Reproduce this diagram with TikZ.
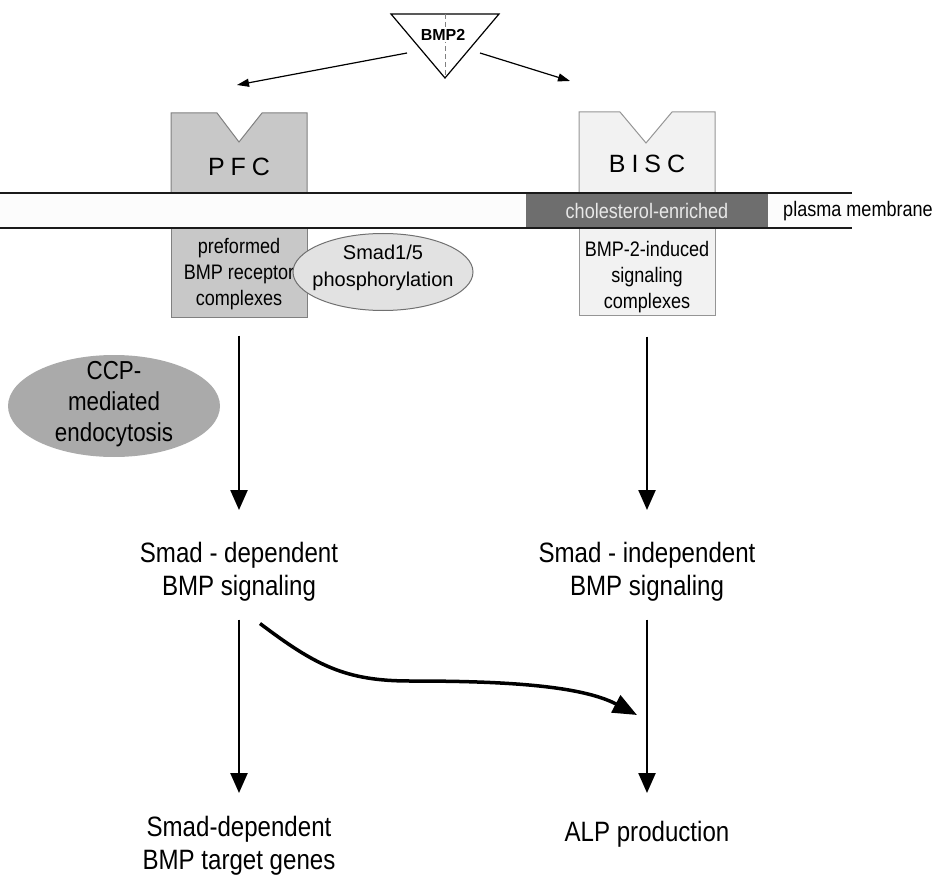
\documentclass[tikz,border=0pt]{standalone}
\usepackage{fontspec}
\setmainfont{Liberation Sans}
\newfontfamily\condf[FakeStretch=0.86]{Liberation Sans}
\usetikzlibrary{arrows.meta,shapes.geometric}
\definecolor{pfcfill}{HTML}{C8C8C8}
\definecolor{pfcdraw}{HTML}{808080}
\definecolor{biscfill}{HTML}{F2F2F2}
\definecolor{biscdraw}{HTML}{959595}
\definecolor{smadfill}{HTML}{E2E2E2}
\definecolor{smaddraw}{HTML}{707070}
\definecolor{ccpfill}{HTML}{AAAAAA}
\definecolor{cholc}{HTML}{6E6E6E}
\definecolor{choltext}{HTML}{E8E8E8}
\definecolor{memfill}{HTML}{FCFCFC}
\definecolor{memc}{HTML}{1A1A1A}
\begin{document}
\begin{tikzpicture}[x=1pt,y=-1pt,
  lbl/.style={font=\condf\fontsize{28}{33}\selectfont,align=center,inner sep=0pt},
  boxtxt/.style={font=\condf\fontsize{21}{26}\selectfont,align=center,inner sep=0pt},
  memtxt/.style={font=\condf\fontsize{21}{24}\selectfont,inner sep=0pt},
  rectxt/.style={font=\fontsize{25}{28}\selectfont,inner sep=0pt},
  vline/.style={line width=2.4pt,draw=black,-{Triangle[width=17pt,length=20pt]}},
  thinarr/.style={line width=1.2pt,draw=black,-{Triangle[width=8pt,length=12pt]}},
  curvarr/.style={line width=3.5pt,draw=black,-{Triangle[width=19pt,length=24pt]}},
  memline/.style={line width=2pt,draw=memc},
  lowbox/.style={line width=1pt,minimum width=136pt,inner sep=0pt},
]
\useasboundingbox (0,0) rectangle (938,880);

% BMP2 ligand
\draw[line width=1.2pt] (391,14) -- (499,14) -- (445,78) -- cycle;
\draw[line width=1pt,gray,dash pattern=on 5pt off 3pt] (445,14) -- (445,78);
\node[font=\bfseries\fontsize{16}{18}\selectfont,fill=white,inner sep=1pt] (bmp) at (443,35) {BMP2};

% membrane fill
\fill[memfill] (0,193) rectangle (852,228);
\fill[cholc] (526,193) rectangle (768,228);

% PFC receptor
\draw[fill=pfcfill,draw=pfcdraw,line width=1pt] (171,193) -- (171,113) -- (217,113) -- (239,142) -- (262,113) -- (307,113) -- (307,193);
\node[lowbox,draw=pfcdraw,fill=pfcfill,minimum height=89pt] (pfcl) at (239,272.5) {};
\node[rectxt] (pfc) at (239,167) {P\kern6pt F\kern6pt C};
\node[boxtxt] (pfctxt) at (239,274) {preformed\\BMP receptor\\complexes};

% BISC receptor
\draw[fill=biscfill,draw=biscdraw,line width=1pt] (579,193) -- (579,112) -- (620,112) -- (646,143) -- (672,112) -- (715,112) -- (715,193);
\node[lowbox,draw=biscdraw,fill=biscfill,minimum height=87pt] (biscl) at (647,271.5) {};
\node[rectxt] (bisc) at (647,164) {B\kern6pt I\kern6pt S\kern6pt C};
\node[boxtxt] (bisctxt) at (647,277) {BMP-2-induced\\signaling\\complexes};

% membrane lines
\draw[memline] (0,193) -- (852,193);
\draw[memline] (0,228) -- (852,228);
\node[memtxt,text=choltext] (chol) at (647,211) {cholesterol-enriched};
\node[memtxt] (pm) at (858,211) {plasma membrane};

% Smad1/5 ellipse
\node[ellipse,draw=smaddraw,fill=smadfill,line width=1pt,minimum width=180pt,minimum height=77pt,inner sep=0pt] (smad) at (383,272) {};
\node[font=\fontsize{20}{27}\selectfont,align=center,inner sep=0pt] (smadtxt) at (383,268) {Smad1/5\\phosphorylation};

% CCP ellipse
\node[ellipse,fill=ccpfill,minimum width=212pt,minimum height=102pt,inner sep=0pt] (ccp) at (114,406) {};
\node[font=\condf\fontsize{26}{31}\selectfont,align=center,inner sep=0pt] (ccptxt) at (114,404) {CCP-\\mediated\\endocytosis};

% signaling labels
\node[lbl] (sdep) at (239,571.5) {Smad - dependent\\BMP signaling};
\node[lbl] (sind) at (647,571.5) {Smad - independent\\BMP signaling};
\node[lbl] (genes) at (239,846) {Smad-dependent\\BMP target genes};
\node[lbl] (alp) at (647,834) {ALP production};

% coordinates for arrow tips
\coordinate (tipL) at (237,85);
\coordinate (tipR) at (570,81);
\coordinate (tipA) at (239,510);
\coordinate (tipB) at (647,510);
\coordinate (tipC) at (239,793);
\coordinate (tipD) at (647,793);
\coordinate (tipE) at (637,715);

% arrows
\draw[thinarr] (bmp) ++(-36,18) -- (tipL);
\draw[thinarr] (bmp) ++(37,18) -- (tipR);
\draw[vline] (pfcl.south) ++(0,18) -- (tipA);
\draw[vline] (biscl.south) ++(0,21) -- (tipB);
\draw[vline] (sdep) ++(0,48) -- (tipC);
\draw[vline] (sind) ++(0,48) -- (tipD);
\draw[curvarr] (sdep) ++(21,52) .. controls (315,665) and (345,681) .. (410,681) .. controls (500,681) and (580,685) .. (tipE);
\end{tikzpicture}
\end{document}
